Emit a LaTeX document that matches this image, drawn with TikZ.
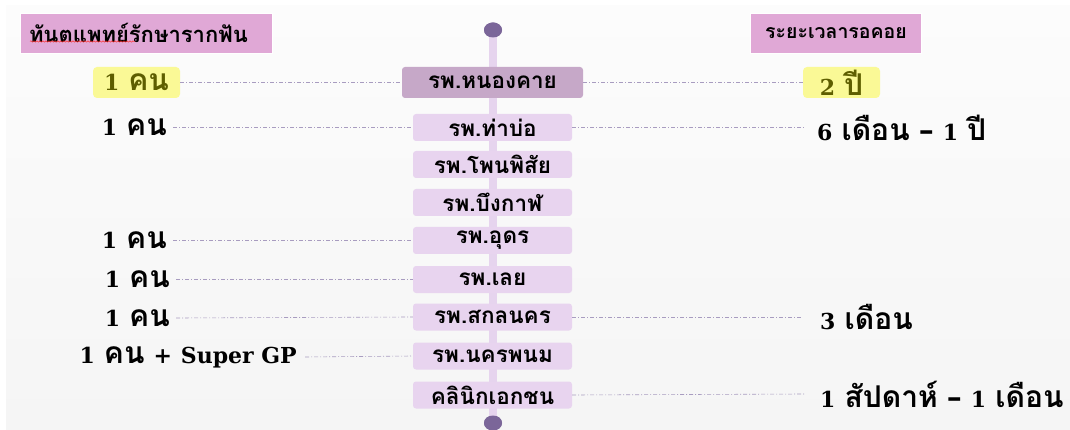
\documentclass[tikz,border=0pt]{standalone}
\usepackage{fontspec}
\setmainfont{DejaVu Serif}
\newfontfamily\tf[Script=Thai]{Loma}
\newcommand{\tk}[1]{{\tf\fontsize{30}{30}\selectfont #1}}
\newcommand{\gap}{\hspace{9pt}}
\newcommand{\dsh}{{\fontsize{30}{30}\selectfont –}}
\usetikzlibrary{decorations.pathmorphing,shapes.geometric}
\definecolor{bgtop}{HTML}{FCFCFC}
\definecolor{bgbot}{HTML}{F5F5F5}
\definecolor{headpink}{HTML}{E0A8D6}
\definecolor{spine}{HTML}{E6D4EE}
\definecolor{boxlight}{HTML}{E8D4EF}
\definecolor{boxdark}{HTML}{C6A8C8}
\definecolor{dotc}{HTML}{7B6699}
\definecolor{hiyel}{HTML}{FAF996}
\definecolor{olive}{HTML}{5E5E00}
\definecolor{linkc}{HTML}{A89CC0}
\tikzset{
  hosp/.style={rounded corners=3pt, fill=boxlight, minimum width=159pt, minimum height=27pt, inner sep=0pt, font=\tf\bfseries\fontsize{22.5}{23}\selectfont},
  hospmain/.style={hosp, fill=boxdark, minimum width=181pt, minimum height=31pt},
  head/.style={fill=headpink, draw=white, line width=0.6pt, minimum height=40pt, inner sep=0pt, font=\tf\bfseries\fontsize{19.5}{21}\selectfont},
  lab/.style={inner sep=0pt, font=\bfseries\fontsize{22}{24}\selectfont},
  hilab/.style={lab, fill=hiyel, rounded corners=4pt, minimum height=31pt, text=olive},
  link/.style={draw=linkc, line width=0.6pt, dash pattern=on 4pt off 2pt on 1pt off 2pt},
  dot/.style={ellipse, fill=dotc, minimum width=18pt, minimum height=15pt, inner sep=0pt}
}
\begin{document}
\begin{tikzpicture}[x=1pt,y=-1pt]
\useasboundingbox (0,0) rectangle (1070,430);
\fill[white] (0,0) rectangle (1070,430);
\shade[top color=bgtop, bottom color=bgbot] (6,6) rectangle (1070,429);
% headers
\node[head, minimum width=252pt, text width=234pt, align=left, font=\tf\bfseries\fontsize{22}{23}\selectfont] (hl) at (146,33) {ทันตแพทย์รักษารากฟัน};
\draw[red!80, line width=0.5pt, decorate, decoration={snake, amplitude=0.7pt, segment length=3pt}] (30,41.5) -- (135,41.5);
\node[head, minimum width=171pt] (hr) at (836,33) {ระยะเวลารอคอย};
% spine
\node[dot] (top) at (493,30) {};
\node[dot] (bot) at (493,423) {};
\draw[spine, line width=8pt] (top.center) -- (bot.center);
\node[dot] at (493,30) {};
\node[dot] at (493,423) {};
% hospitals
\node[hospmain] (h1) at (492.5,82.5) {รพ.หนองคาย};
\node[hosp] (h2) at (492.5,127.5) {รพ.ท่าบ่อ};
\node[hosp] (h3) at (492.5,164.5) {รพ.โพนพิสัย};
\node[hosp] (h4) at (492.5,202.5) {รพ.บึงกาฬ};
\node[hosp] (h5) at (492.5,240.5) {รพ.อุดร};
\node[hosp] (h6) at (492.5,279.5) {รพ.เลย};
\node[hosp] (h7) at (492.5,317) {รพ.สกลนคร};
\node[hosp] (h8) at (492.5,356) {รพ.นครพนม};
\node[hosp] (h9) at (492.5,395) {คลินิกเอกชน};
% left labels
\node[hilab, minimum width=87pt] (l1) at (136.5,82.5) {1\gap\tk{คน}};
\node[lab, anchor=east] (l2) at (167,127.5) {1\gap\tk{คน}};
\node[lab, anchor=east] (l5) at (167,240.5) {1\gap\tk{คน}};
\node[lab, anchor=east] (l6) at (170,279.5) {1\gap\tk{คน}};
\node[lab, anchor=east] (l7) at (170,318) {1\gap\tk{คน}};
\node[lab, anchor=east] (l8) at (297,357) {1\gap\tk{คน}\gap+\gap Super GP};
% right labels
\node[hilab, minimum width=77pt] (r1) at (841.5,82.5) {2\gap\tk{ปี}};
\node[lab, anchor=west] (r2) at (817,127.5) {6\gap\tk{เดือน}\gap\dsh\gap 1\gap\tk{ปี}};
\node[lab, anchor=west] (r7) at (820,317) {3\gap\tk{เดือน}};
\node[lab, anchor=west] (r9) at (820,394) {1\gap\tk{สัปดาห์}\gap\dsh\gap 1\gap\tk{เดือน}};
% links
\draw[link] (l1.east) -- (h1.west);
\draw[link] ([xshift=6pt]l2.east) -- (h2.west);
\draw[link] ([xshift=6pt]l5.east) -- (h5.west);
\draw[link] ([xshift=6pt]l6.east) -- (h6.west);
\draw[link] ([xshift=6pt]l7.east) -- (h7.west);
\draw[link] ([xshift=8pt]l8.east) -- (h8.west);
\draw[link] (h1.east) -- (r1.west);
\draw[link] (h2.east) -- ([xshift=-12pt]r2.west);
\draw[link] (h7.east) -- ([xshift=-18pt]r7.west);
\draw[link] (h9.east) -- ([xshift=-15pt]r9.west);
\end{tikzpicture}
\end{document}
